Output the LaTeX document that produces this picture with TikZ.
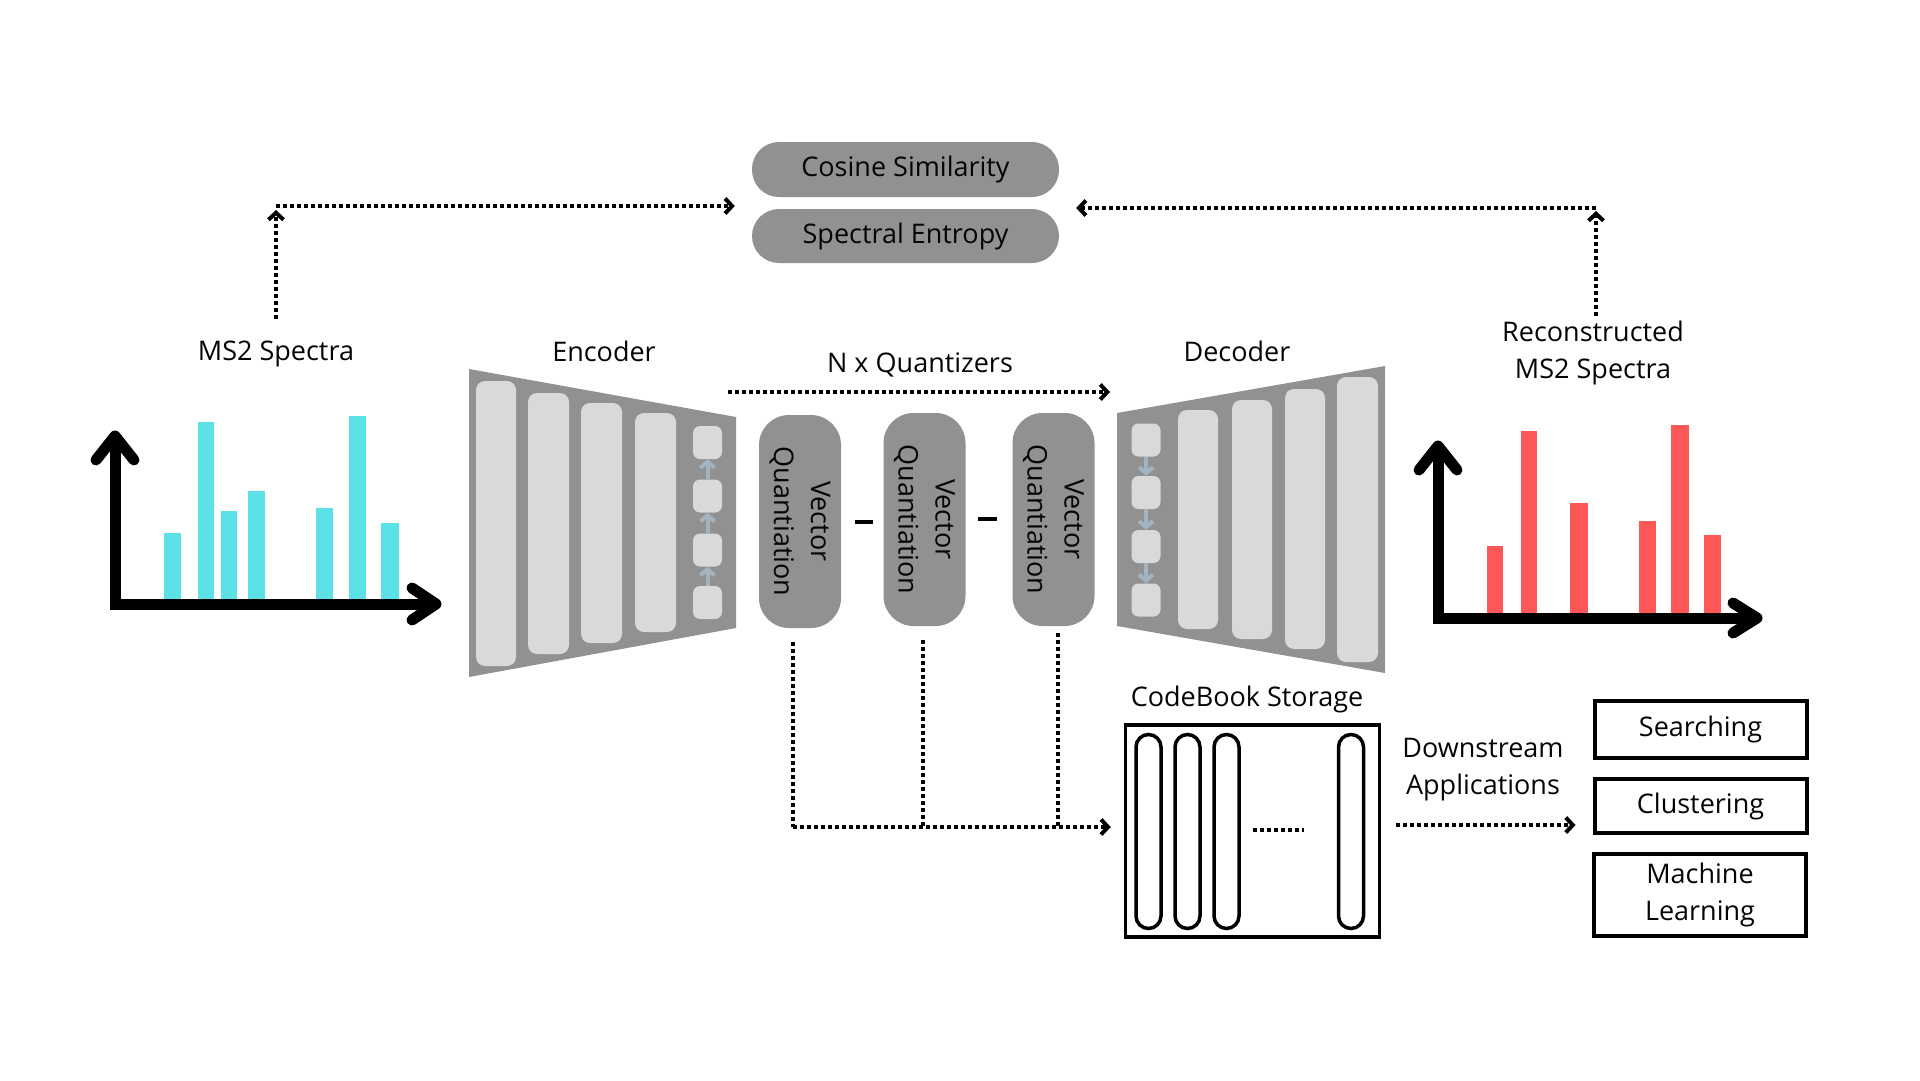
\documentclass[tikz,border=0pt]{standalone}
\usepackage{fontspec}
\setmainfont{Open Sans}
\usetikzlibrary{arrows.meta,calc}
\definecolor{boxgray}{HTML}{919191}
\definecolor{lightbar}{HTML}{D9D9D9}
\definecolor{smallarr}{HTML}{A3B3BF}
\definecolor{cyanbar}{HTML}{5CE1E6}
\definecolor{redbar}{HTML}{FF5757}
\definecolor{txt}{HTML}{050505}
\begin{document}
\begin{tikzpicture}[x=1pt,y=-1pt,
  lbl/.style={font=\fontsize{27pt}{37pt}\selectfont, text=txt, align=center, inner sep=0pt},
  pill/.style={lbl, fill=boxgray, rounded corners=27pt, minimum width=307pt, minimum height=55pt},
  vqbox/.style={fill=boxgray, rounded corners=30pt, minimum width=82pt, minimum height=213pt, inner sep=0pt},
  vqtxt/.style={lbl, rotate=-90},
  sbox/.style={fill=lightbar, rounded corners=7pt, minimum width=29pt, minimum height=33pt, inner sep=0pt},
  smarr/.style={draw=smallarr, line width=4pt, -{Straight Barb[length=6pt,width=14pt]}},
  appbox/.style={lbl, draw=black, line width=4pt, minimum width=212pt},
  cbpill/.style={draw=black, line width=3.5pt, rounded corners=12.5pt, minimum width=25pt, minimum height=194pt, inner sep=0pt},
  dotln/.style={line width=4pt, dash pattern=on 4pt off 3pt},
  dotarr/.style={dotln, -{Straight Barb[length=7pt,width=15pt]}},
  axisline/.style={line width=11pt},
  axistip/.style={line width=11pt, line cap=round, line join=round},
]
\useasboundingbox (0,0) rectangle (1920,1080);

% ---------- left spectrum ----------
\foreach \a/\b/\t in {164/181/533, 198/214/422, 221/237/511, 248/265/491, 316/333/508, 349/366/416, 381/399/523}
  \fill[cyanbar] (\a,\t) rectangle (\b,600);
\draw[axisline] (115,442) -- (115,604) -- (430,604);
\draw[axistip] (96,460) -- (115,436) -- (134,460);
\draw[axistip] (412,588) -- (436,604) -- (412,620);

% ---------- right spectrum ----------
\foreach \a/\b/\t in {1487/1503/546, 1521/1537/431, 1570/1588/503, 1639/1656/521, 1671/1689/425, 1704/1721/535}
  \fill[redbar] (\a,\t) rectangle (\b,615);
\draw[axisline] (1438,452) -- (1438,618) -- (1751,618);
\draw[axistip] (1419,470) -- (1438,446) -- (1457,470);
\draw[axistip] (1733,603) -- (1757,618) -- (1733,633);

% ---------- encoder ----------
\fill[boxgray] (469,369) -- (736,417) -- (736,628) -- (469,677) -- cycle;
\fill[lightbar, rounded corners=9pt] (476,381) rectangle (516,666);
\fill[lightbar, rounded corners=9pt] (528,393) rectangle (569,654);
\fill[lightbar, rounded corners=9pt] (581,403) rectangle (622,643);
\fill[lightbar, rounded corners=9pt] (635,413) rectangle (676,632);
\node[sbox] (e1) at (707.5,442.5) {};
\node[sbox] (e2) at (707.5,496) {};
\node[sbox] (e3) at (707.5,550) {};
\node[sbox] (e4) at (707.5,602.5) {};
\draw[smarr] (e4) -- (e3);
\draw[smarr] (e3) -- (e2);
\draw[smarr] (e2) -- (e1);

% ---------- decoder ----------
\fill[boxgray] (1117,413) -- (1385,366) -- (1385,673) -- (1117,626) -- cycle;
\fill[lightbar, rounded corners=9pt] (1178,410) rectangle (1218,629);
\fill[lightbar, rounded corners=9pt] (1232,400) rectangle (1272,639);
\fill[lightbar, rounded corners=9pt] (1285,389) rectangle (1325,649);
\fill[lightbar, rounded corners=9pt] (1337,377) rectangle (1378,662);
\node[sbox] (d1) at (1146,440) {};
\node[sbox] (d2) at (1146,492.5) {};
\node[sbox] (d3) at (1146,546.5) {};
\node[sbox] (d4) at (1146,600) {};
\draw[smarr] (d1) -- (d2);
\draw[smarr] (d2) -- (d3);
\draw[smarr] (d3) -- (d4);

% ---------- vector quantisation ----------
\node[vqbox] (vq1) at (800,521.5) {};
\node[vqbox] (vq2) at (924.5,519.5) {};
\node[vqbox] (vq3) at (1053.5,519.5) {};
\node[vqtxt] (vq1t) at (vq1) {Vector\\Quantiation};
\node[vqtxt] (vq2t) at (vq2) {Vector\\Quantiation};
\node[vqtxt] (vq3t) at (vq3) {Vector\\Quantiation};
\draw[line width=4.5pt] (855,522) -- (873,522);
\draw[line width=4.5pt] (978,519) -- (997,519);

% ---------- metrics ----------
\node[pill] (cos) at (905.5,169.5) {Cosine Similarity};
\node[pill, minimum height=54pt] (spec) at (905.5,236) {Spectral Entropy};

% ---------- labels ----------
\node[lbl] (ms2) at (276,354) {MS2 Spectra};
\node[lbl] (enc) at (604,351) {Encoder};
\node[lbl] (nq) at (920,365) {N x Quantizers};
\node[lbl] (dec) at (1237,351) {Decoder};
\node[lbl] (rec) at (1593,353) {Reconstructed\\MS2 Spectra};
\node[lbl] (cbl) at (1247,699) {CodeBook Storage};
\node[lbl] (down) at (1483,770) {Downstream\\Applications};

% ---------- codebook ----------
\node[draw=black, line width=3.5pt, minimum width=254pt, minimum height=212pt, inner sep=0pt] (cb) at (1252.5,831) {};
\node[cbpill] (c1) at (1148.5,831.5) {};
\node[cbpill] (c2) at (1187.5,831.5) {};
\node[cbpill] (c3) at (1226.5,831.5) {};
\node[cbpill] (c4) at (1351,831.5) {};
\draw[dotln, line width=3.5pt] (1253,830) -- (1304,830);

% ---------- applications ----------
\node[appbox, minimum height=57pt] (sea) at (1700.5,729.5) {Searching};
\node[appbox, minimum height=54pt] (clu) at (1700.5,806) {Clustering};
\node[appbox, minimum height=82pt] (ml) at (1700,895) {Machine\\Learning};

% ---------- dotted connectors ----------
\coordinate (lc) at (276,206);
\draw[dotarr, shorten <=22pt, shorten >=4pt] (ms2.north) -- (lc);
\draw[dotarr, shorten >=17pt] (lc) -- (lc -| cos.west);

\coordinate (rc) at (1596,208);
\draw[dotarr, shorten <=5pt, shorten >=3pt] (rec.north -| rc) -- (rc);
\draw[dotarr, shorten >=17pt] (rc) -- (rc -| cos.east);

\coordinate (nqs) at (728,392);
\coordinate (nqe) at (1110,392);
\draw[dotarr] (nqs) -- (nqe);

\coordinate (j1) at (793,827);
\coordinate (j2) at (923,827);
\coordinate (j3) at (1058,827);
\draw[dotln, shorten <=14pt] (vq1.south -| j1) -- (j1);
\draw[dotln, shorten <=14pt] (vq2.south -| j2) -- (j2);
\draw[dotln, shorten <=7pt] (vq3.south -| j3) -- (j3);
\draw[dotarr, shorten >=13pt] (j1) -- (cb.west |- j1);

\coordinate (ds) at (1393,825);
\draw[dotarr, shorten <=15pt, shorten >=17pt] (cb.east |- ds) -- (clu.west |- ds);
\end{tikzpicture}
\end{document}
